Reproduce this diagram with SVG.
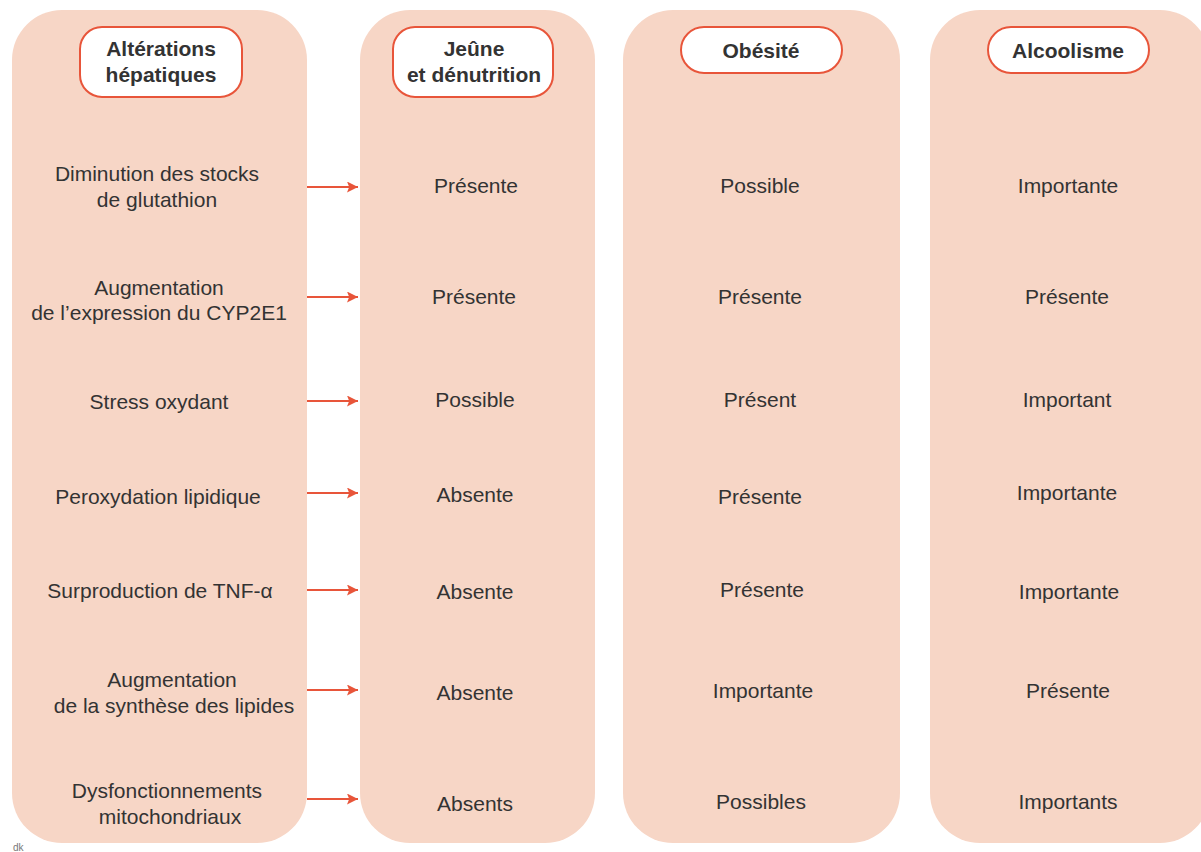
<svg xmlns="http://www.w3.org/2000/svg" width="1201" height="852" viewBox="0 0 1201 852">
<defs>
<style>
.col{fill:#f7d6c6;}
.hdr{fill:#ffffff;stroke:#e8553a;stroke-width:2;}
.ht{font-family:"Liberation Sans",Arial,sans-serif;font-size:21px;font-weight:bold;fill:#333333;text-anchor:middle;dominant-baseline:central;}
.t{font-family:"Liberation Sans",Arial,sans-serif;font-size:21px;fill:#333333;text-anchor:middle;dominant-baseline:central;}
.arr{stroke:#e8553a;stroke-width:1.8;fill:none;marker-end:url(#ah);}
.note{font-family:"Liberation Sans",Arial,sans-serif;font-size:10px;fill:#777777;}
</style>
<marker id="ah" viewBox="0 0 10 10" refX="10" refY="5" markerWidth="11" markerHeight="11" markerUnits="userSpaceOnUse" orient="auto">
<path d="M0,0 L10,5 L0,10 L2,5 Z" fill="#e8553a"/>
</marker>
</defs>
<rect width="1201" height="852" fill="#ffffff"/>

<g id="col-alterations">
<rect class="col" x="12" y="10" width="295" height="833" rx="50" ry="50"/>
<rect class="hdr" x="80" y="27" width="162" height="70" rx="22" ry="22"/>
<text class="ht" x="161" y="48">Altérations</text>
<text class="ht" x="161" y="74">hépatiques</text>
<text class="t" x="157" y="173">Diminution des stocks</text>
<text class="t" x="157" y="199">de glutathion</text>
<text class="t" x="159" y="287">Augmentation</text>
<text class="t" x="159" y="312">de l’expression du CYP2E1</text>
<text class="t" x="159" y="401">Stress oxydant</text>
<text class="t" x="158" y="496">Peroxydation lipidique</text>
<text class="t" x="160" y="590">Surproduction de TNF-α</text>
<text class="t" x="172" y="679">Augmentation</text>
<text class="t" x="174" y="705">de la synthèse des lipides</text>
<text class="t" x="167" y="790">Dysfonctionnements</text>
<text class="t" x="170" y="816">mitochondriaux</text>
</g>

<g id="col-jeune">
<rect class="col" x="360" y="10" width="235" height="833" rx="50" ry="50"/>
<rect class="hdr" x="393" y="27" width="160" height="70" rx="22" ry="22"/>
<text class="ht" x="474" y="48">Jeûne</text>
<text class="ht" x="474" y="74">et dénutrition</text>
<text class="t" x="476" y="185">Présente</text>
<text class="t" x="474" y="296">Présente</text>
<text class="t" x="475" y="399">Possible</text>
<text class="t" x="475" y="494">Absente</text>
<text class="t" x="475" y="591">Absente</text>
<text class="t" x="475" y="692">Absente</text>
<text class="t" x="475" y="803">Absents</text>
</g>

<g id="col-obesite">
<rect class="col" x="623" y="10" width="277" height="833" rx="50" ry="50"/>
<rect class="hdr" x="681" y="27" width="161" height="46" rx="23" ry="23"/>
<text class="ht" x="761" y="50">Obésité</text>
<text class="t" x="760" y="185">Possible</text>
<text class="t" x="760" y="296">Présente</text>
<text class="t" x="760" y="399">Présent</text>
<text class="t" x="760" y="496">Présente</text>
<text class="t" x="762" y="589">Présente</text>
<text class="t" x="763" y="690">Importante</text>
<text class="t" x="761" y="801">Possibles</text>
</g>

<g id="col-alcoolisme">
<rect class="col" x="930" y="10" width="280" height="833" rx="50" ry="50"/>
<rect class="hdr" x="988" y="27" width="161" height="46" rx="23" ry="23"/>
<text class="ht" x="1068" y="50">Alcoolisme</text>
<text class="t" x="1068" y="185">Importante</text>
<text class="t" x="1067" y="296">Présente</text>
<text class="t" x="1067" y="399">Important</text>
<text class="t" x="1067" y="492">Importante</text>
<text class="t" x="1069" y="591">Importante</text>
<text class="t" x="1068" y="690">Présente</text>
<text class="t" x="1068" y="801">Importants</text>
</g>

<g id="connectors">
<line class="arr" x1="307" y1="187" x2="358" y2="187"/>
<line class="arr" x1="307" y1="297" x2="358" y2="297"/>
<line class="arr" x1="307" y1="401" x2="358" y2="401"/>
<line class="arr" x1="307" y1="493" x2="358" y2="493"/>
<line class="arr" x1="307" y1="590" x2="358" y2="590"/>
<line class="arr" x1="307" y1="690" x2="358" y2="690"/>
<line class="arr" x1="307" y1="799" x2="358" y2="799"/>
</g>

<text class="note" x="13" y="851">dk</text>
</svg>
